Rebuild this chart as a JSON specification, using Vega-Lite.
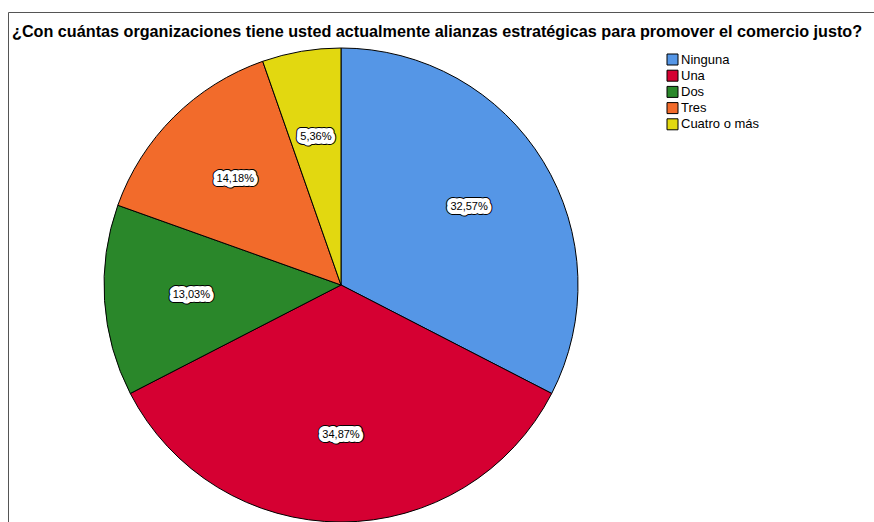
{
  "$schema": "https://vega.github.io/schema/vega-lite/v6.json",
  "width": 866,
  "height": 510,
  "autosize": "none",
  "padding": {"left": 8, "top": 12, "right": 0, "bottom": 0},
  "background": "white",
  "view": {"stroke": "#555555", "strokeWidth": 1, "fill": "white"},
  "title": {
    "text": "¿Con cuántas organizaciones tiene usted actualmente alianzas estratégicas para promover el comercio justo?",
    "anchor": "start",
    "frame": "group",
    "orient": "top",
    "offset": -41,
    "dx": 4,
    "baseline": "alphabetic",
    "font": "Liberation Sans",
    "fontSize": 16.2,
    "fontWeight": "bold",
    "color": "black"
  },
  "config": {
    "view": {"stroke": "#555555", "strokeWidth": 1},
    "locale": {"number": {"decimal": ",", "thousands": ".", "grouping": [3], "currency": ["", " €"]}}
  },
  "data": {
    "values": [
      {"categoria": "Ninguna", "orden": 1, "proporcion": 0.3257},
      {"categoria": "Una", "orden": 2, "proporcion": 0.3487},
      {"categoria": "Dos", "orden": 3, "proporcion": 0.1303},
      {"categoria": "Tres", "orden": 4, "proporcion": 0.1418},
      {"categoria": "Cuatro o más", "orden": 5, "proporcion": 0.0536}
    ]
  },
  "encoding": {
    "theta": {"field": "proporcion", "type": "quantitative", "stack": true},
    "order": {"field": "orden", "type": "quantitative"}
  },
  "layer": [
    {
      "mark": {"type": "arc", "radius": 237, "xOffset": -100, "yOffset": 18, "stroke": "black", "strokeWidth": 1},
      "encoding": {
        "color": {
          "field": "categoria",
          "type": "nominal",
          "sort": ["Ninguna", "Una", "Dos", "Tres", "Cuatro o más"],
          "scale": {
            "domain": ["Ninguna", "Una", "Dos", "Tres", "Cuatro o más"],
            "range": ["#5596E6", "#D50032", "#2A872A", "#F26B2B", "#E2D810"]
          },
          "legend": {
            "orient": "none",
            "legendX": 658,
            "legendY": 41,
            "title": null,
            "symbolType": "square",
            "symbolSize": 121,
            "symbolStrokeColor": "black",
            "symbolStrokeWidth": 1,
            "symbolOpacity": 1,
            "labelFont": "Liberation Sans",
            "labelFontSize": 13,
            "labelColor": "black",
            "rowPadding": 1.2,
            "labelOffset": 2
          }
        }
      }
    },
    {
      "mark": {"type": "text", "radius": 150, "xOffset": -100, "yOffset": 18, "font": "Liberation Sans", "fontSize": 11, "fill": "black", "stroke": "black", "strokeWidth": 10, "strokeJoin": "round"},
      "encoding": {"text": {"field": "proporcion", "type": "quantitative", "format": ".2%"}}
    },
    {
      "mark": {"type": "text", "radius": 150, "xOffset": -100, "yOffset": 18, "font": "Liberation Sans", "fontSize": 11, "fill": "white", "stroke": "white", "strokeWidth": 8, "strokeJoin": "round"},
      "encoding": {"text": {"field": "proporcion", "type": "quantitative", "format": ".2%"}}
    },
    {
      "mark": {"type": "text", "radius": 150, "xOffset": -100, "yOffset": 18, "font": "Liberation Sans", "fontSize": 11, "fill": "black"},
      "encoding": {"text": {"field": "proporcion", "type": "quantitative", "format": ".2%"}}
    }
  ]
}
